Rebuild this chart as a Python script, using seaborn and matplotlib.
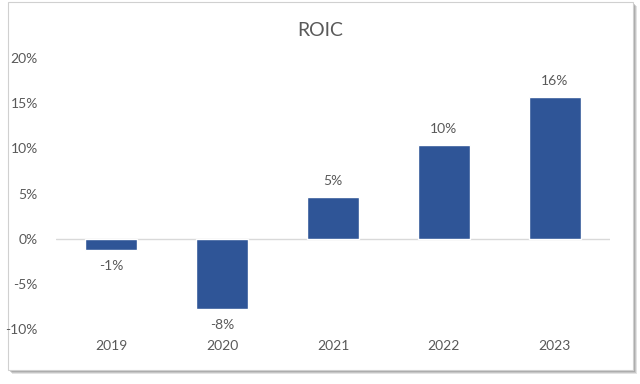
import matplotlib
matplotlib.use("Agg")
import matplotlib.pyplot as plt
import seaborn as sns
import pandas as pd
from matplotlib.patches import Rectangle
from matplotlib.ticker import FuncFormatter

# ===== DATA =====
years = ["2019", "2020", "2021", "2022", "2023"]
roic = [-1.3, -7.8, 4.6, 10.4, 15.7]
value_labels = ["-1%", "-8%", "5%", "10%", "16%"]

df = pd.DataFrame({"Year": years, "ROIC": roic})

# ===== STYLE =====
sns.set_style("white")
plt.rcParams["font.family"] = ["Lato", "DejaVu Sans"]
text_color = "#595959"
bar_color = "#2F5597"

fig = plt.figure(figsize=(6.4, 3.84), dpi=100)
fig.patch.set_facecolor("white")

# chart frame with a soft shadow
for off, col in [(4, "#b0b0b0"), (3, "#909090"), (2, "#7a7a7a")]:
    fig.patches.append(Rectangle((8 / 640 + off / 640, 1 - 370 / 384 - off / 384),
                                 625 / 640, 368 / 384, transform=fig.transFigure,
                                 facecolor=col, edgecolor="none", alpha=0.35, zorder=-12))
fig.patches.append(Rectangle((8 / 640, 1 - 370 / 384), 625 / 640, 368 / 384,
                             transform=fig.transFigure, facecolor="white",
                             edgecolor="#d0d0d0", linewidth=0.8, zorder=-11))

ax = fig.add_axes([56 / 640, 1 - 329 / 384, 554 / 640, 271 / 384])
ax.set_facecolor("none")

sns.barplot(data=df, x="Year", y="ROIC", color=bar_color, width=0.47,
            saturation=1, ax=ax, zorder=3)

ax.set_ylim(-10, 20)
ax.set_yticks([-10, -5, 0, 5, 10, 15, 20])
ax.yaxis.set_major_formatter(FuncFormatter(lambda v, p: f"{v:.0f}%"))
ax.axhline(0, color="#d9d9d9", linewidth=1, zorder=2)

for s in ax.spines.values():
    s.set_visible(False)

ax.tick_params(axis="y", length=0, pad=13, labelsize=10, labelcolor=text_color)
ax.tick_params(axis="x", length=0, pad=8, labelsize=10, labelcolor=text_color)
ax.set_xlabel("")
ax.set_ylabel("")

ax.bar_label(ax.containers[0], labels=value_labels, padding=7,
             fontsize=10, color=text_color)

fig.text(0.5, 1 - 31 / 384, "ROIC", ha="center", va="center",
         fontsize=14, color=text_color)

fig.savefig("out.png", dpi=100)
